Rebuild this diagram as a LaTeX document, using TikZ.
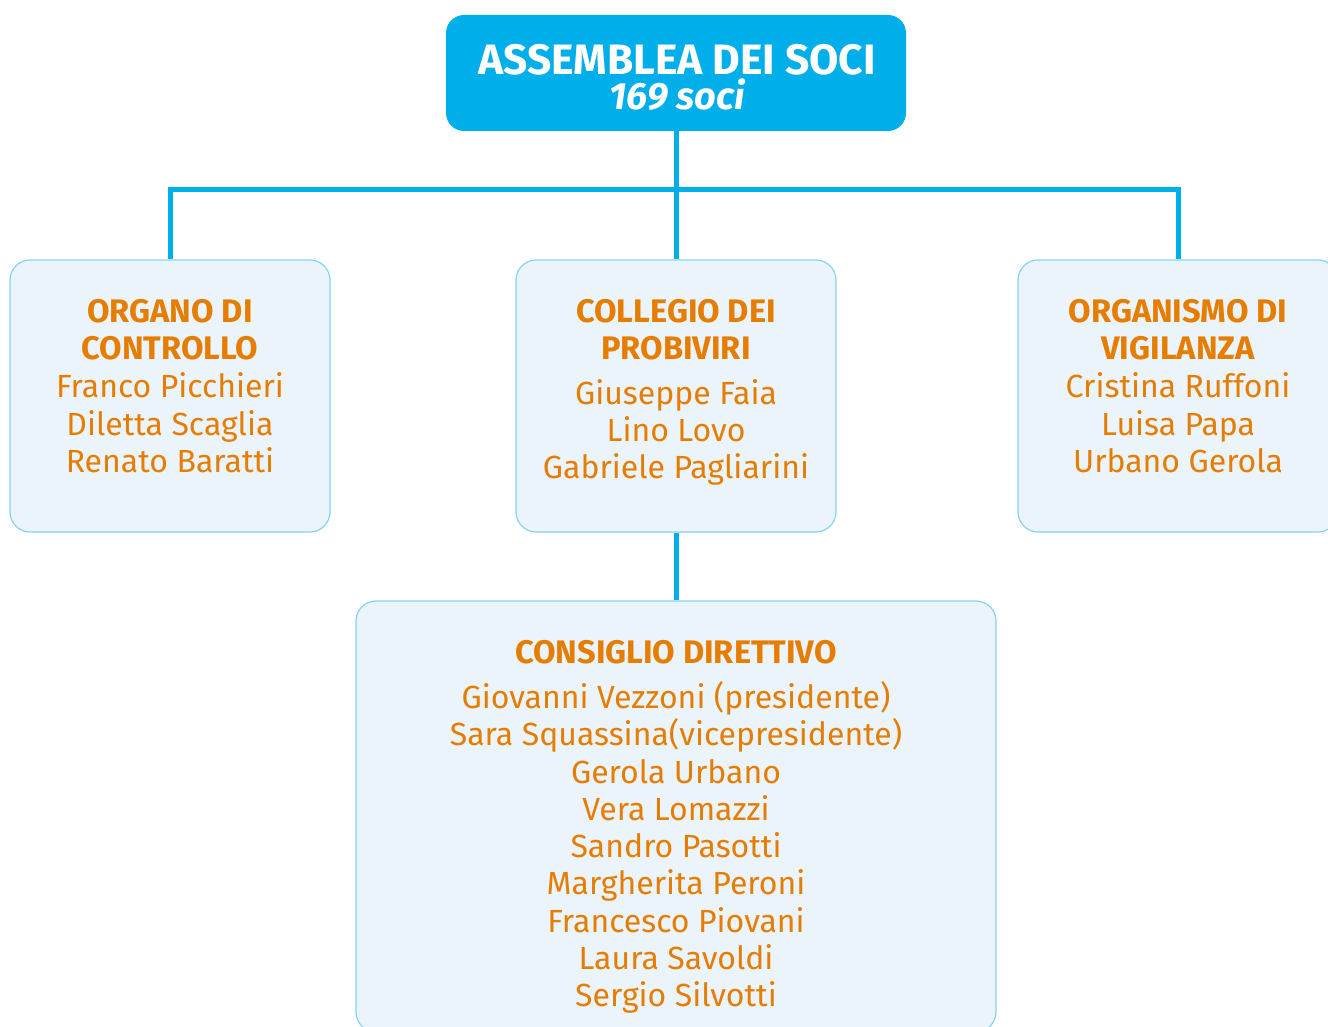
\documentclass[tikz,border=0pt]{standalone}
\usepackage{fontspec}
\setmainfont{Fira Sans}
\definecolor{cy}{HTML}{00AEEA}
\definecolor{bxfill}{HTML}{EBF3FB}
\definecolor{bxdraw}{HTML}{86D3F2}
\definecolor{org}{HTML}{E57D00}
\begin{document}
\begin{tikzpicture}[x=1pt,y=-1pt,
  box/.style={draw=bxdraw, fill=bxfill, line width=1.2pt, rounded corners=20pt, inner sep=0pt},
  ttl/.style={anchor=base, inner sep=0pt, text=org, font=\fontsize{32.6}{37}\selectfont\bfseries},
  nm/.style={anchor=base, inner sep=0pt, text=org, font=\fontsize{32}{37}\selectfont},
  conn/.style={draw=cy, line width=5pt}]
\useasboundingbox (0,0) rectangle (1328,1027);
% boxes
\node[fill=cy, rounded corners=18pt, minimum width=460pt, minimum height=116pt, inner sep=0pt] (ass) at (676,73) {};
\node[box, minimum width=320pt, minimum height=272pt] (ctrl) at (170,396) {};
\node[box, minimum width=320pt, minimum height=272pt] (prob) at (676,396) {};
\node[box, minimum width=320pt, minimum height=272pt] (vig) at (1178,396) {};
\node[box, minimum width=640pt, minimum height=431pt] (cons) at (676,816.5) {};
% connectors
\coordinate (bus) at (676,190);
\draw[conn] (ass.south) -- (prob.north);
\draw[conn] (ctrl.north) |- (bus) -| (vig.north);
\draw[conn] (prob.south) -- (cons.north);
% top text
\node[anchor=base, inner sep=0pt, align=center, text=white, font=\fontsize{42.5}{35}\selectfont\bfseries] (t1) at (677,110) {ASSEMBLEA DEI SOCI\\{\fontsize{38}{35}\selectfont\itshape 169 soci}};
% left
\node[ttl] (c1) at (170,322) {ORGANO DI};
\node[ttl] (c2) at (170,359) {CONTROLLO};
\node[nm] (c3) at (170,397) {Franco Picchieri};
\node[nm] (c4) at (170,435) {Diletta Scaglia};
\node[nm] (c5) at (170,472) {Renato Baratti};
% middle
\node[ttl] (p1) at (676,322) {COLLEGIO DEI};
\node[ttl] (p2) at (676,359) {PROBIVIRI};
\node[nm] (p3) at (676,404) {Giuseppe Faia};
\node[nm] (p4) at (676,441) {Lino Lovo};
\node[nm] (p5) at (676,478) {Gabriele Pagliarini};
% right
\node[ttl] (v1) at (1178,322) {ORGANISMO DI};
\node[ttl] (v2) at (1178,359) {VIGILANZA};
\node[nm] (v3) at (1178,397) {Cristina Ruffoni};
\node[nm] (v4) at (1178,435) {Luisa Papa};
\node[nm] (v5) at (1178,472) {Urbano Gerola};
% bottom
\node[ttl] (d0) at (676,663) {CONSIGLIO DIRETTIVO};
\node[nm] (d1) at (676,708) {Giovanni Vezzoni (presidente)};
\node[nm] (d2) at (676,745) {Sara Squassina(vicepresidente)};
\node[nm] (d3) at (676,783) {Gerola Urbano};
\node[nm] (d4) at (676,820) {Vera Lomazzi};
\node[nm] (d5) at (676,857) {Sandro Pasotti};
\node[nm] (d6) at (676,894) {Margherita Peroni};
\node[nm] (d7) at (676,932) {Francesco Piovani};
\node[nm] (d8) at (676,969) {Laura Savoldi};
\node[nm] (d9) at (676,1006) {Sergio Silvotti};
\end{tikzpicture}
\end{document}
